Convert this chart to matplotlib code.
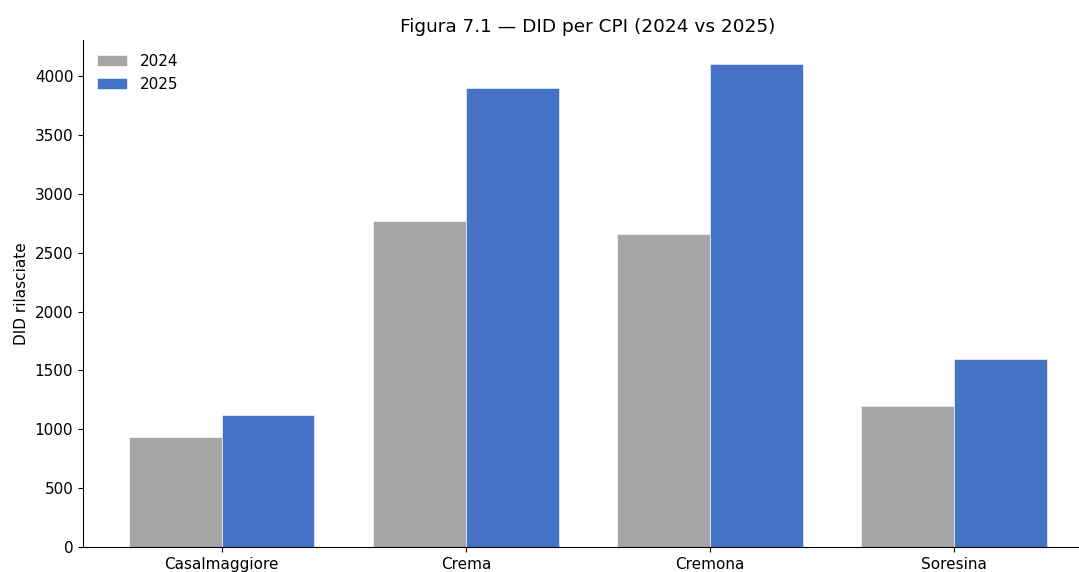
import numpy as np
import matplotlib
matplotlib.use("Agg")
import matplotlib.pyplot as plt

# --- DATI ---
cpi = ["Casalmaggiore", "Crema", "Cremona", "Soresina"]
did_2024 = [932, 2769, 2656, 1197]
did_2025 = [1121, 3901, 4099, 1594]

COL_2024 = "#A6A6A6"
COL_2025 = "#4472C4"
WIDTH = 0.38

fig = plt.figure(figsize=(10.79, 5.72), dpi=100)
ax = fig.add_axes([0.0769, 0.0437, 0.936, 0.886])

x = np.arange(len(cpi))
ax.bar(x - WIDTH / 2, did_2024, WIDTH, color=COL_2024, label="2024",
       edgecolor="white", linewidth=0.4)
ax.bar(x + WIDTH / 2, did_2025, WIDTH, color=COL_2025, label="2025",
       edgecolor="white", linewidth=0.4)

ax.set_xticks(x)
ax.set_xticklabels(cpi, fontsize=11)
ax.tick_params(axis="y", labelsize=11)
ax.tick_params(axis="x", pad=4)
ax.set_ylabel("DID rilasciate", fontsize=11)
ax.set_title("Figura 7.1 — DID per CPI (2024 vs 2025)", fontsize=13.3, pad=6)
ax.spines["top"].set_visible(False)
ax.spines["right"].set_visible(False)
ax.legend(loc="upper left", frameon=False, fontsize=11)

fig.savefig("out.png", dpi=100)
